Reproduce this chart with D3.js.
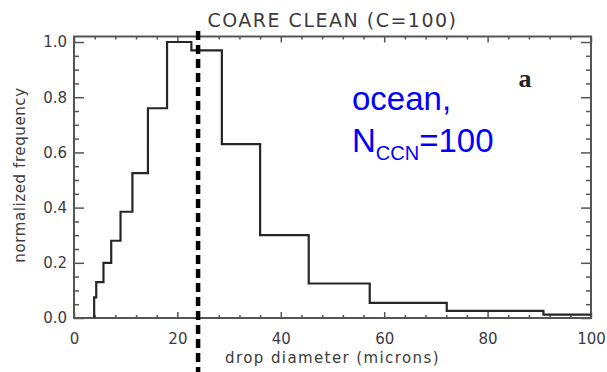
<!DOCTYPE html>
<html>
<head>
<meta charset="utf-8">
<script src="https://cdn.jsdelivr.net/npm/d3@7"></script>
<style>
  body { margin: 0; background: #fff; }
  svg { display: block; }
  .ax text { font-family: "DejaVu Sans", sans-serif; font-size: 15px; fill: #3c3c3c; }
  .ax line { stroke: #555; stroke-width: 1.5; }
</style>
</head>
<body>
<svg id="chart" width="607" height="372"></svg>
<script>
// bin edges (microns) and normalized frequency per bin
var binEdges = [3.9, 4.3, 5.7, 7.2, 9.0, 11.3, 14.3, 18.0, 22.7, 28.6, 36.0, 45.4, 57.2, 72.1, 90.8, 100];
var binFreq = [0.075, 0.13, 0.20, 0.28, 0.385, 0.525, 0.76, 1.0, 0.97, 0.63, 0.30, 0.125, 0.055, 0.026, 0.012];
var xTicks = [0, 20, 40, 60, 80, 100];
var yTicks = [0.0, 0.2, 0.4, 0.6, 0.8, 1.0];
var meanDiameter = 24;

var svg = d3.select('#chart');
var plot = {left: 74, right: 591, top: 36.5, bottom: 318};

var x = d3.scaleLinear().domain([0, 100]).range([plot.left, plot.right]);
var y = d3.scaleLinear().domain([0, 1.02]).range([plot.bottom, plot.top]);

var xMinor = d3.range(0, 101, 4).filter(function(d) { return d % 20 !== 0; });
var yMinor = d3.range(0, 21).map(function(i) { return i * 0.05; })
  .filter(function(d, i) { return i % 4 !== 0; });

function addAxis(axis, tx, ty, cls) {
  var g = svg.append('g').attr('class', 'ax ' + cls)
    .attr('transform', 'translate(' + tx + ',' + ty + ')')
    .call(axis);
  g.select('.domain').remove();
  return g;
}

// bottom
addAxis(d3.axisBottom(x).tickValues(xTicks).tickSize(-6).tickPadding(15).tickFormat(d3.format('d')), 0, plot.bottom, 'xb');
addAxis(d3.axisBottom(x).tickValues(xMinor).tickSize(-3).tickFormat(''), 0, plot.bottom, 'xbm');
// top
addAxis(d3.axisTop(x).tickValues(xTicks).tickSize(-6).tickFormat(''), 0, plot.top, 'xt');
addAxis(d3.axisTop(x).tickValues(xMinor).tickSize(-3).tickFormat(''), 0, plot.top, 'xtm');
// left
addAxis(d3.axisLeft(y).tickValues(yTicks).tickSize(-10).tickPadding(7).tickFormat(d3.format('.1f')), plot.left, 0, 'yl');
addAxis(d3.axisLeft(y).tickValues(yMinor).tickSize(-5).tickFormat(''), plot.left, 0, 'ylm');
// right
addAxis(d3.axisRight(y).tickValues(yTicks).tickSize(-10).tickFormat(''), plot.right, 0, 'yr');
addAxis(d3.axisRight(y).tickValues(yMinor).tickSize(-5).tickFormat(''), plot.right, 0, 'yrm');

// frame
svg.append('rect')
  .attr('x', plot.left).attr('y', plot.top)
  .attr('width', plot.right - plot.left).attr('height', plot.bottom - plot.top)
  .attr('fill', 'none').attr('stroke', '#555').attr('stroke-width', 2);

// histogram step line
var pts = [[binEdges[0], 0]];
binFreq.forEach(function(v, i) { pts.push([binEdges[i], v]); });
pts.push([binEdges[binEdges.length - 1], binFreq[binFreq.length - 1]]);

var line = d3.line()
  .x(function(d) { return x(d[0]); })
  .y(function(d) { return y(d[1]); })
  .curve(d3.curveStepAfter);

svg.append('path')
  .datum(pts)
  .attr('d', line)
  .attr('fill', 'none')
  .attr('stroke', '#262626')
  .attr('stroke-width', 2.2);

// dashed marker line
svg.append('line')
  .attr('x1', x(meanDiameter)).attr('x2', x(meanDiameter))
  .attr('y1', 31).attr('y2', 372)
  .attr('stroke', '#000').attr('stroke-width', 4.5)
  .attr('stroke-dasharray', '9,5');

// titles
svg.append('text')
  .attr('x', (plot.left + plot.right) / 2).attr('y', 27)
  .attr('text-anchor', 'middle')
  .style('font-family', '"DejaVu Sans", sans-serif').style('font-size', '19px')
  .style('letter-spacing', '1.5px').style('fill', '#3c3c3c')
  .text('COARE CLEAN (C=100)');

svg.append('text')
  .attr('x', (plot.left + plot.right) / 2).attr('y', 363)
  .attr('text-anchor', 'middle')
  .style('font-family', '"DejaVu Sans", sans-serif').style('font-size', '15px')
  .style('letter-spacing', '1.4px').style('fill', '#3c3c3c')
  .text('drop diameter (microns)');

svg.append('text')
  .attr('transform', 'translate(25,175) rotate(-90)')
  .attr('text-anchor', 'middle')
  .style('font-family', '"DejaVu Sans", sans-serif').style('font-size', '15px')
  .style('letter-spacing', '0.6px').style('fill', '#3c3c3c')
  .text('normalized frequency');

// panel letter
svg.append('text')
  .attr('x', 525).attr('y', 87)
  .attr('text-anchor', 'middle')
  .style('font-family', '"Liberation Serif", serif').style('font-size', '26px')
  .style('font-weight', 'bold').style('fill', '#222')
  .text('a');

// blue annotation
var note = svg.append('g')
  .style('font-family', '"Liberation Sans", Arial, sans-serif').style('fill', '#0000ff');
note.append('text').attr('x', 352).attr('y', 110).style('font-size', '33px').text('ocean,');
var t2 = note.append('text').attr('x', 352).attr('y', 152).style('font-size', '33px');
t2.append('tspan').text('N');
t2.append('tspan').attr('dy', 8).style('font-size', '20px').text('CCN');
t2.append('tspan').attr('dy', -8).text('=100');
</script>
</body>
</html>
